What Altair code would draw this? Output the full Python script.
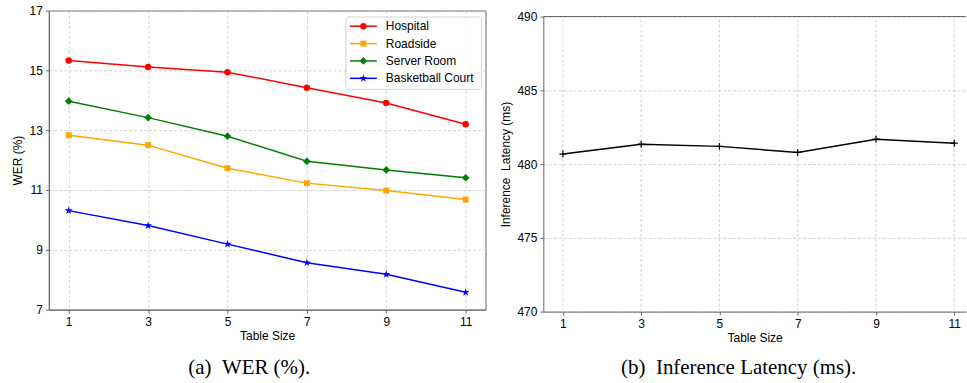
import altair as alt
import pandas as pd

table_sizes = [1, 3, 5, 7, 9, 11]
series_names = ["Hospital", "Roadside", "Server Room", "Basketball Court"]
hospital = [15.33, 15.11, 14.94, 14.42, 13.91, 13.20]
roadside = [12.83, 12.50, 11.73, 11.23, 10.98, 10.68]
server_room = [13.97, 13.42, 12.80, 11.96, 11.67, 11.41]
basketball = [10.31, 9.81, 9.19, 8.57, 8.18, 7.58]
latency = [480.68, 481.35, 481.20, 480.79, 481.69, 481.42]

wer_ticks = [7, 9, 11, 13, 15, 17]
lat_ticks = [470, 475, 480, 485, 490]

colors = ["#ff0000", "#ffa500", "#008000", "#0000ff"]
STAR = "M0,-1L0.2245,-0.309L0.951,-0.309L0.363,0.118L0.588,0.809L0,0.382L-0.588,0.809L-0.363,0.118L-0.951,-0.309L-0.2245,-0.309Z"
PLUS = "M-1,0L1,0M0,-1L0,1"
shapes = ["circle", "square", "diamond", STAR]
sizes = [42, 36, 60, 70]

rows = []
for name, vals in zip(series_names, [hospital, roadside, server_room, basketball]):
    for t, v in zip(table_sizes, vals):
        rows.append({"size": t, "wer": v, "series": name})
wer_df = pd.DataFrame(rows)
lat_df = pd.DataFrame({"size": table_sizes, "latency": latency})
leg_df = pd.DataFrame({"series": series_names, "idx": list(range(len(series_names)))})

FONT = "Liberation Sans"
SERIF = "Liberation Serif"
GRID_COLOR = "#c8c8c8"
GRID = dict(grid=True, gridColor=GRID_COLOR, gridDash=[3, 2], gridWidth=0.8)
AX = dict(domainColor="#666666", tickColor="#666666", tickSize=3.5,
          labelFont=FONT, labelFontSize=12, labelColor="#000000",
          titleFont=FONT, titleFontSize=12, titleFontWeight="normal", titleColor="#000000")

color_scale = alt.Scale(domain=series_names, range=colors)
shape_scale = alt.Scale(domain=series_names, range=shapes)
size_scale = alt.Scale(type="ordinal", domain=series_names, range=sizes)

# ---------------- left panel ----------------
LW, LH = 438, 300
x_left = alt.X("size:Q", scale=alt.Scale(domain=[0.5, 11.5], nice=False, zero=False),
               axis=alt.Axis(values=table_sizes, title="Table Size", titlePadding=3, labelPadding=3, **GRID, **AX))
y_left = alt.Y("wer:Q", scale=alt.Scale(domain=[7, 17], nice=False, zero=False),
               axis=alt.Axis(values=wer_ticks, title="WER (%)", titlePadding=5, labelPadding=3, **GRID, **AX))

lines = alt.Chart(wer_df).mark_line(strokeWidth=1.5).encode(
    x=x_left, y=y_left,
    color=alt.Color("series:N", scale=color_scale, legend=None),
    detail="series:N",
)
points = alt.Chart(wer_df).mark_point(filled=True, opacity=1).encode(
    x=x_left, y=y_left,
    color=alt.Color("series:N", scale=color_scale, legend=None),
    shape=alt.Shape("series:N", scale=shape_scale, legend=None),
    size=alt.Size("series:N", scale=size_scale, legend=None),
)
data_layer = alt.layer(lines, points)

leg_y = alt.Y("idx:Q", scale=alt.Scale(domain=[0, 3], range=[15.7, 68]), axis=None)
leg_box = alt.Chart(leg_df).mark_rect(fill="white", stroke="#d0d0d0", strokeWidth=1, cornerRadius=3, opacity=0.9).encode(
    x=alt.value(298), x2=alt.value(434), y=alt.value(6.5), y2=alt.value(79)
).transform_filter("datum.idx == 0")
leg_line = alt.Chart(leg_df).mark_rule(strokeWidth=1.5).encode(
    x=alt.value(302), x2=alt.value(329), y=leg_y,
    color=alt.Color("series:N", scale=color_scale, legend=None),
)
leg_pt = alt.Chart(leg_df).mark_point(filled=True, opacity=1).encode(
    x=alt.value(315.5), y=leg_y,
    color=alt.Color("series:N", scale=color_scale, legend=None),
    shape=alt.Shape("series:N", scale=shape_scale, legend=None),
    size=alt.Size("series:N", scale=size_scale, legend=None),
)
leg_txt = alt.Chart(leg_df).mark_text(align="left", baseline="middle", font=FONT, fontSize=12, color="black").encode(
    x=alt.value(338), y=leg_y, text="series:N"
)
legend_layer = alt.layer(leg_box, leg_line, leg_pt, leg_txt)

cap_a = alt.Chart(leg_df).mark_text(font=SERIF, fontSize=21, color="black", baseline="middle").encode(
    x=alt.value(201), y=alt.value(359), text=alt.value("(a)\u00a0\u00a0WER (%).")
).transform_filter("datum.idx == 0")

left = alt.layer(data_layer, legend_layer, cap_a).resolve_scale(y="independent").properties(width=LW, height=LH)

# ---------------- right panel ----------------
RW, RH = 424, 302
x_right = alt.X("size:Q", scale=alt.Scale(domain=[0.5, 11.3], nice=False, zero=False),
                axis=alt.Axis(values=table_sizes, title="Table Size", titlePadding=3, labelPadding=3,
                              grid=False, **AX))
y_right = alt.Y("latency:Q", scale=alt.Scale(domain=[470, 490], nice=False, zero=False, range=[RH, 6]),
                axis=alt.Axis(values=lat_ticks, title="Inference\u00a0\u00a0Latency (ms)", titlePadding=4, labelPadding=3,
                              **GRID, **AX))
vgrid = alt.Chart(lat_df).mark_rule(color=GRID_COLOR, strokeDash=[3, 2], strokeWidth=0.8).encode(
    x=alt.X("size:Q", scale=alt.Scale(domain=[0.5, 11.3], nice=False, zero=False)),
    y=alt.datum(470, scale=alt.Scale(domain=[470, 490], nice=False, zero=False, range=[RH, 6])),
    y2=alt.datum(490),
)
top_spine = alt.Chart(lat_df).mark_rule(color="#666666", strokeWidth=1).encode(
    x=alt.value(0), x2=alt.value(RW), y=alt.datum(490)
).transform_filter("datum.size == 1")
lat_line = alt.Chart(lat_df).mark_line(color="black", strokeWidth=1.5).encode(x=x_right, y=y_right)
lat_pts = alt.Chart(lat_df).mark_point(shape=PLUS, filled=False, color="black", strokeWidth=1.2, size=49, opacity=1).encode(
    x=x_right, y=y_right)
cap_b = alt.Chart(lat_df).mark_text(font=SERIF, fontSize=21, color="black", baseline="middle").encode(
    x=alt.value(196), y=alt.value(359), text=alt.value("(b)\u00a0\u00a0Inference Latency (ms).")
).transform_filter("datum.size == 1")

right = alt.layer(vgrid, lat_line, lat_pts, top_spine, cap_b).properties(
    width=RW, height=RH, view=alt.ViewConfig(stroke="transparent"),
)

chart = alt.hconcat(left, right, spacing=12).properties(
    padding={"left": 10, "top": 3, "right": 0, "bottom": 0},
    background="white",
).configure_view(stroke="#666666", strokeWidth=1).configure_concat(spacing=12)

chart.save("out.html", embed_options={"renderer": "svg", "actions": False})
